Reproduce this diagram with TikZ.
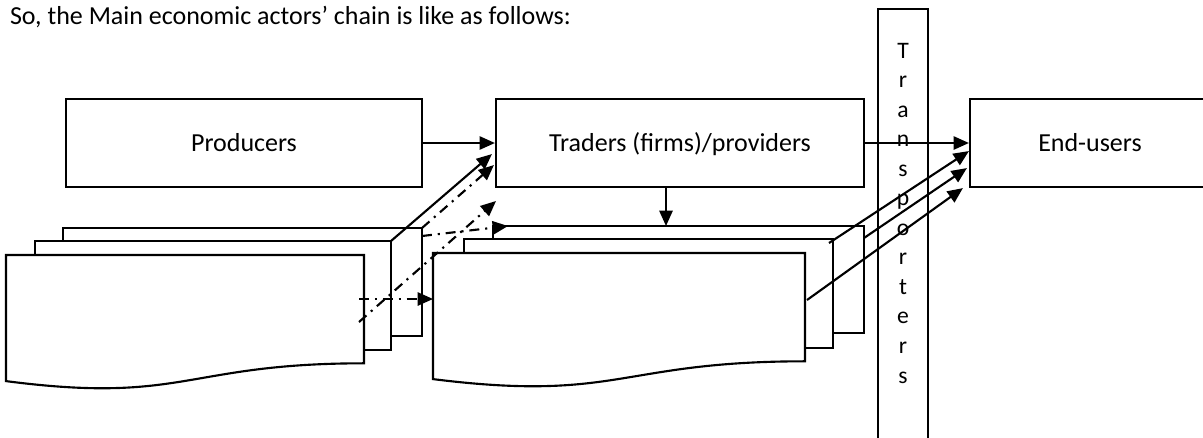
\documentclass[tikz,border=0pt]{standalone}
\usepackage{fontspec}
\setmainfont{Carlito}
\usetikzlibrary{arrows.meta,calc}

\begin{document}
\begin{tikzpicture}[x=0.4233pt, y=-0.4233pt, line width=0.9pt,
	box/.style={draw, minimum height=37.25pt, text height=7.1pt, text depth=0pt, inner sep=0pt, font=\fontsize{11}{13}\selectfont},
	arr/.style={-{Triangle[length=6.5pt, width=5.6pt]}},
	dashdot/.style={arr, dash pattern=on 4.2pt off 2.5pt on 0.9pt off 2.5pt}]
	\useasboundingbox (0,0) rectangle (1203,437);
	\clip (0,0) rectangle (1203,437);

	\node[anchor=base west, inner sep=0pt, font=\fontsize{11}{13}\selectfont] (title) at (9,24) {So, the Main economic actors’ chain is like as follows:};

	\node[box, minimum width=150.7pt] (prod) at (244,143) {Producers};
	\node[box, minimum width=155.8pt] (trad) at (680,143) {Traders (firms)/providers};
	\node[box, minimum width=101.6pt] (user) at (1090,143) {End-users};

	% transporters column
	\node[draw, minimum width=21.2pt, minimum height=186.7pt, inner sep=0pt] (trans) at (903,229.5) {};
	\foreach \ch [count=\i] in {T,r,a,n,s,p,o,r,t,e,r,s}
		\node[anchor=base, inner sep=0pt, font=\fontsize{10}{12}\selectfont] (tr\i) at (903,{58+29.55*(\i-1)}) {\ch};

	% left stack of sheets
	\draw[fill=white] (63,228) rectangle (422,336);
	\draw[fill=white] (35,241) rectangle (391,350);
	\draw[fill=white] (6,255) -- (364,255) -- (364,363.3) .. controls (185,363.3) and (185,404.4) .. (6,381.1) -- cycle;
	\coordinate (l2c) at (391,241);
	\coordinate (l3c) at (422,228);
	\coordinate (l3r) at (422,236);
	\coordinate (l1a) at (359,299);
	\coordinate (l1b) at (359,322);

	% middle stack of sheets
	\draw[fill=white] (493,226) rectangle (864,333);
	\draw[fill=white] (464,239) rectangle (833,348);
	\draw[fill=white] (433,253) -- (805,253) -- (805,361.3) .. controls (619,361.3) and (619,402.4) .. (433,379.1) -- cycle;
	\coordinate (m1w) at (433,299);
	\coordinate (m3t) at (666,226);
	\coordinate (m3a) at (508,226);
	\coordinate (m1e) at (807,300);
	\coordinate (m2c) at (829,243);
	\coordinate (m3e) at (864,238);
	\coordinate (gap) at (496,201);

	\draw[arr] (prod.east) -- (trad.west);
	\draw[arr] (trad.east) -- (user.west);
	\draw[arr] ($(trad.south)+(-14,0)$) -- (m3t);

	\draw[arr] (l2c) -- ($(trad.south west)+(-3,-34)$);
	\draw[dashdot] (l3c) -- ($(trad.south west)+(-1,-23)$);
	\draw[dashdot] (l3r) -- (m3a);
	\draw[dashdot] (l1b) -- (gap);
	\draw[dashdot] (l1a) -- (m1w);

	\draw[arr] (m2c) -- ($(user.south west)+(0,-37)$);
	\draw[arr] (m3e) -- ($(user.south west)+(-2,-20)$);
	\draw[arr] (m1e) -- ($(user.south west)+(-6,0)$);
\end{tikzpicture}
\end{document}
